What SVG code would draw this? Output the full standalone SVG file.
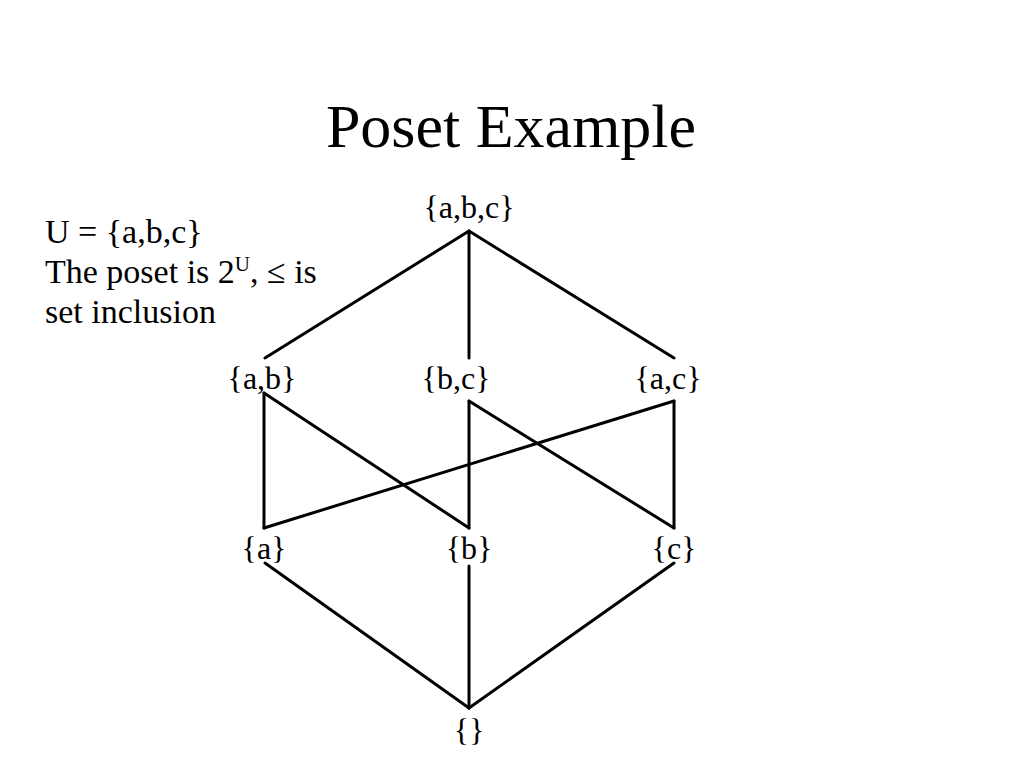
<svg xmlns="http://www.w3.org/2000/svg" width="1024" height="768" viewBox="0 0 1024 768">
<style>
.t{font-family:"Liberation Serif","Times New Roman",serif;fill:#000}
.lbl{font-size:32px;text-anchor:middle}
.e{stroke:#000;stroke-width:3;fill:none;stroke-linecap:round}
</style>
<rect width="1024" height="768" fill="#fff"/>
<text class="t" x="511" y="147" font-size="62" text-anchor="middle">Poset Example</text>
<g id="desc" class="t" font-size="34">
<text x="45" y="243">U = {a,b,c}</text>
<text x="45" y="283">The poset is 2<tspan font-size="21" dy="-12">U</tspan><tspan dy="12">, ≤ is</tspan></text>
<text x="45" y="323">set inclusion</text>
</g>
<g id="connectors">
<line class="e" x1="469" y1="231" x2="265" y2="358"/>
<line class="e" x1="469" y1="231" x2="469" y2="358"/>
<line class="e" x1="469" y1="231" x2="674" y2="358"/>
<line class="e" x1="264" y1="393" x2="264" y2="528"/>
<line class="e" x1="264" y1="393" x2="469" y2="528"/>
<line class="e" x1="469" y1="401" x2="469" y2="528"/>
<line class="e" x1="469" y1="401" x2="674" y2="528"/>
<line class="e" x1="674" y1="401" x2="674" y2="528"/>
<line class="e" x1="674" y1="401" x2="264" y2="528"/>
<line class="e" x1="265" y1="563" x2="469" y2="708"/>
<line class="e" x1="469" y1="566" x2="469" y2="708"/>
<line class="e" x1="674" y1="563" x2="469" y2="708"/>
</g>
<g id="n-abc"><text class="t lbl" x="469" y="218">{a,b,c}</text></g>
<g id="n-ab"><text class="t lbl" x="262" y="389">{a,b}</text></g>
<g id="n-bc"><text class="t lbl" x="456" y="389">{b,c}</text></g>
<g id="n-ac"><text class="t lbl" x="668" y="389">{a,c}</text></g>
<g id="n-a"><text class="t lbl" x="264" y="559">{a}</text></g>
<g id="n-b"><text class="t lbl" x="469" y="559">{b}</text></g>
<g id="n-c"><text class="t lbl" x="674" y="559">{c}</text></g>
<g id="n-empty"><text class="t lbl" x="469" y="741">{}</text></g>
</svg>
